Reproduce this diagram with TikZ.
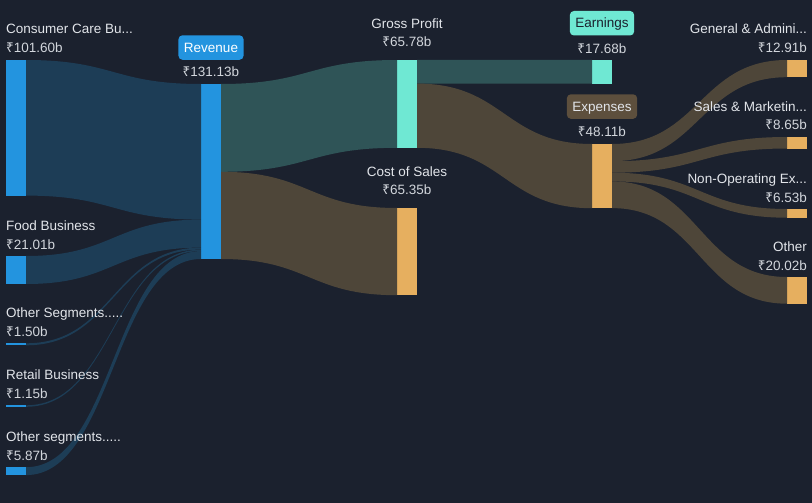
\documentclass[tikz,border=0pt]{standalone}
\usepackage{fontspec}
\setmainfont{Liberation Sans}
\newfontfamily\rsfont{Noto Sans}
\usetikzlibrary{calc}

\definecolor{bg}{HTML}{1B212E}
\definecolor{barblue}{HTML}{2394DF}
\definecolor{barteal}{HTML}{6FE8D3}
\definecolor{barorange}{HTML}{E6AF5F}
\definecolor{flowblue}{HTML}{1D3D56}
\definecolor{flowteal}{HTML}{2F5457}
\definecolor{flowbrown}{HTML}{4E4639}
\definecolor{tagbrown}{HTML}{5D4F3D}
\definecolor{txt}{HTML}{E2E5EA}
\definecolor{valtxt}{HTML}{D2D6DC}

\newcommand\rupee{{\rsfont ₹}}
% #1 from, #2 offset, #3 to, #4 offset, #5 width, #6 colour
\newcommand\band[6]{%
  \fill[#6] let \p1=(#1.north east), \p2=(#3.north west) in
    ({\x1},{\y1-#2}) .. controls ({(\x1+\x2)/2},{\y1-#2}) and ({(\x1+\x2)/2},{\y2-#4}) .. ({\x2},{\y2-#4})
    -- ({\x2},{\y2-#4-#5}) .. controls ({(\x1+\x2)/2},{\y2-#4-#5}) and ({(\x1+\x2)/2},{\y1-#2-#5}) .. ({\x1},{\y1-#2-#5}) -- cycle;}

\tikzset{
  bar/.style={rectangle, inner sep=0pt, outer sep=0pt, minimum width=20pt, anchor=north west},
  lbl/.style={text=txt, inner sep=0pt, font=\fontsize{13.5}{16}\selectfont},
  val/.style={lbl, text=valtxt},
  tag/.style={lbl, rounded corners=4pt, inner xsep=5.5pt, text height=9.5pt, text depth=0pt, minimum height=24.5pt, anchor=south},
}

\begin{document}
\begin{tikzpicture}[x=1pt, y=-1pt]
        \useasboundingbox (0,0) rectangle (812,503);
        \fill[bg] (0,0) rectangle (812,503);

        % bars
        \node[bar, fill=barblue, minimum height=135.6pt] (cc) at (6,60) {};
        \node[bar, fill=barblue, minimum height=28pt] (food) at (6,256) {};
        \node[bar, fill=barblue, minimum height=2pt] (oseg) at (6,343.3) {};
        \node[bar, fill=barblue, minimum height=1.5pt] (retail) at (6,405.3) {};
        \node[bar, fill=barblue, minimum height=7.8pt] (oseg2) at (6,467.2) {};
        \node[bar, fill=barblue, minimum height=175pt] (rev) at (201,84) {};
        \node[bar, fill=barteal, minimum height=87.8pt] (gp) at (397,60) {};
        \node[bar, fill=barorange, minimum height=87.2pt] (cos) at (397,208) {};
        \node[bar, fill=barteal, minimum height=23.6pt] (earn) at (592,60) {};
        \node[bar, fill=barorange, minimum height=64.2pt] (exp) at (592,144) {};
        \node[bar, fill=barorange, minimum height=17.2pt] (ga) at (787,60) {};
        \node[bar, fill=barorange, minimum height=11.5pt] (sm) at (787,137) {};
        \node[bar, fill=barorange, minimum height=8.7pt] (nop) at (787,209) {};
        \node[bar, fill=barorange, minimum height=26.7pt] (oth) at (787,277) {};

        % flows
        \band{cc}{0}{rev}{0}{135.6}{flowblue}
        \band{food}{0}{rev}{135.6}{28}{flowblue}
        \band{oseg}{0}{rev}{163.6}{2}{flowblue}
        \band{retail}{0}{rev}{165.6}{1.5}{flowblue}
        \band{oseg2}{0}{rev}{167.1}{7.9}{flowblue}
        \band{rev}{0}{gp}{0}{87.8}{flowteal}
        \band{rev}{87.8}{cos}{0}{87.2}{flowbrown}
        \band{gp}{0}{earn}{0}{23.6}{flowteal}
        \band{gp}{23.6}{exp}{0}{64.2}{flowbrown}
        \band{exp}{0}{ga}{0}{17.2}{flowbrown}
        \band{exp}{17.2}{sm}{0}{11.5}{flowbrown}
        \band{exp}{28.7}{nop}{0}{8.7}{flowbrown}
        \band{exp}{37.4}{oth}{0}{26.7}{flowbrown}

        % left labels
        \node[val, anchor=base west] (ccval) at ([yshift=7pt]cc.north west) {\rupee101.60b};
        \node[lbl, anchor=base west] (cclbl) at ([yshift=19pt]ccval.base west) {Consumer Care Bu...};
        \node[val, anchor=base west] (foodval) at ([yshift=7pt]food.north west) {\rupee21.01b};
        \node[lbl, anchor=base west] (foodlbl) at ([yshift=19pt]foodval.base west) {Food Business};
        \node[val, anchor=base west] (osegval) at ([yshift=7pt]oseg.north west) {\rupee1.50b};
        \node[lbl, anchor=base west] (oseglbl) at ([yshift=19pt]osegval.base west) {Other Segments.....};
        \node[val, anchor=base west] (retailval) at ([yshift=7pt]retail.north west) {\rupee1.15b};
        \node[lbl, anchor=base west] (retaillbl) at ([yshift=19pt]retailval.base west) {Retail Business};
        \node[val, anchor=base west] (oseg2val) at ([yshift=7pt]oseg2.north west) {\rupee5.87b};
        \node[lbl, anchor=base west] (oseg2lbl) at ([yshift=19pt]oseg2val.base west) {Other segments.....};

        % middle labels
        \node[val, anchor=base] (revval) at ([yshift=7pt]rev.north) {\rupee131.13b};
        \node[tag, fill=barblue, text=white] (revtag) at ([yshift=17pt]revval.base) {Revenue};
        \node[val, anchor=base] (gpval) at ([yshift=13pt]gp.north) {\rupee65.78b};
        \node[lbl, anchor=base] (gplbl) at ([yshift=18.5pt]gpval.base) {Gross Profit};
        \node[val, anchor=base] (cosval) at ([yshift=13.3pt]cos.north) {\rupee65.35b};
        \node[lbl, anchor=base] (coslbl) at ([yshift=18.5pt]cosval.base) {Cost of Sales};
        \node[val, anchor=base] (earnval) at ([yshift=6.7pt]earn.north) {\rupee17.68b};
        \node[tag, fill=barteal, text=bg] (earntag) at ([yshift=17.6pt]earnval.base) {Earnings};
        \node[val, anchor=base] (expval) at ([yshift=7.3pt]exp.north) {\rupee48.11b};
        \node[tag, fill=tagbrown] (exptag) at ([yshift=17.7pt]expval.base) {Expenses};

        % right labels
        \node[val, anchor=base east] (gaval) at ([yshift=7.3pt]ga.north east) {\rupee12.91b};
        \node[lbl, anchor=base east] (galbl) at ([yshift=18.7pt]gaval.base east) {General \& Admini...};
        \node[val, anchor=base east] (smval) at ([yshift=7.7pt]sm.north east) {\rupee8.65b};
        \node[lbl, anchor=base east] (smlbl) at ([yshift=18.3pt]smval.base east) {Sales \& Marketin...};
        \node[val, anchor=base east] (nopval) at ([yshift=6.7pt]nop.north east) {\rupee6.53b};
        \node[lbl, anchor=base east] (noplbl) at ([yshift=19pt]nopval.base east) {Non-Operating Ex...};
        \node[val, anchor=base east] (othval) at ([yshift=7pt]oth.north east) {\rupee20.02b};
        \node[lbl, anchor=base east] (othlbl) at ([yshift=19pt]othval.base east) {Other};

\end{tikzpicture}
\end{document}
